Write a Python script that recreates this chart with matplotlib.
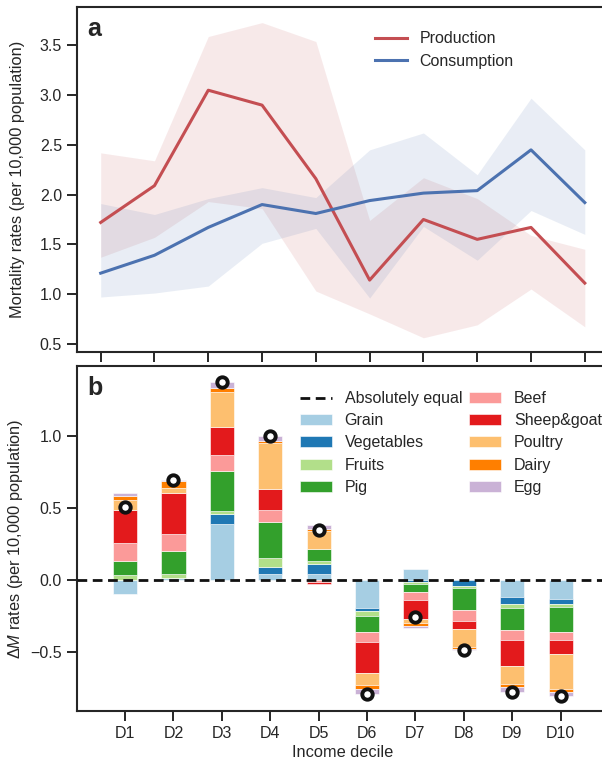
import numpy as np
import matplotlib
matplotlib.use("Agg")
import matplotlib.pyplot as plt
from matplotlib.lines import Line2D
from matplotlib.patches import Patch

# ---------------- data ----------------
deciles = ["D1", "D2", "D3", "D4", "D5", "D6", "D7", "D8", "D9", "D10"]

production = [1.72, 2.09, 3.05, 2.90, 2.16, 1.14, 1.75, 1.55, 1.67, 1.11]
production_hi = [2.42, 2.34, 3.59, 3.73, 3.54, 1.74, 2.17, 1.96, 1.59, 1.45]
production_lo = [1.37, 1.57, 1.93, 1.86, 1.03, 0.80, 0.56, 0.69, 1.05, 0.67]

consumption = [1.21, 1.39, 1.67, 1.90, 1.81, 1.94, 2.015, 2.04, 2.45, 1.92]
consumption_hi = [1.91, 1.80, 1.96, 2.07, 1.97, 2.45, 2.62, 2.20, 2.97, 2.45]
consumption_lo = [0.97, 1.01, 1.08, 1.51, 1.66, 0.96, 1.68, 1.34, 1.84, 1.60]

categories = ["Grain", "Vegetables", "Fruits", "Pig", "Beef",
              "Sheep&goat", "Poultry", "Dairy", "Egg"]
grain = [-0.10, 0.015, 0.387, 0.04, 0.04, -0.199, 0.072, 0.0, -0.12, -0.136]
vegetables = [0.0, 0.0, 0.069, 0.05, 0.067, -0.02, -0.014, -0.044, -0.046, -0.03]
fruits = [0.035, 0.025, 0.021, 0.059, 0.02, -0.033, -0.018, -0.013, -0.032, -0.023]
pig = [0.095, 0.16, 0.28, 0.25, 0.088, -0.111, -0.053, -0.157, -0.152, -0.175]
beef = [0.125, 0.117, 0.111, 0.087, -0.018, -0.07, -0.056, -0.07, -0.07, -0.058]
sheep_goat = [0.229, 0.287, 0.195, 0.144, -0.014, -0.213, -0.132, -0.06, -0.178, -0.095]
poultry = [0.067, 0.033, 0.24, 0.321, 0.125, -0.085, -0.03, -0.122, -0.127, -0.245]
dairy = [0.03, 0.051, 0.028, 0.012, 0.012, -0.03, -0.018, -0.012, -0.023, -0.017]
egg = [0.024, 0.006, 0.042, 0.037, 0.026, -0.033, -0.012, -0.011, -0.031, -0.028]
series_b = [grain, vegetables, fruits, pig, beef, sheep_goat, poultry, dairy, egg]

# ---------------- style ----------------
TXT = "#262626"
plt.rcParams.update({
    "font.family": ["Liberation Sans", "DejaVu Sans"],
    "font.size": 11.5,
    "mathtext.fontset": "custom",
    "mathtext.rm": "Liberation Sans",
    "mathtext.it": "Liberation Sans:italic",
    "text.color": TXT,
    "axes.labelcolor": TXT,
    "axes.edgecolor": TXT,
    "axes.linewidth": 1.5,
    "xtick.color": TXT,
    "ytick.color": TXT,
    "xtick.major.size": 7,
    "ytick.major.size": 7,
    "xtick.major.width": 1.4,
    "ytick.major.width": 1.4,
    "xtick.labelsize": 11.5,
    "ytick.labelsize": 11.5,
    "axes.labelsize": 11.8,
    "legend.fontsize": 11.5,
})

RED = "#c44e52"
BLUE = "#4c72b0"
paired = plt.get_cmap("Paired").colors
cat_colors = [paired[i] for i in range(9)]

fig = plt.figure(figsize=(6.02, 7.63), dpi=100)
W = 532.3 / 602
axA = fig.add_axes([76.7 / 602, (763 - 351.7) / 763, W, 345.0 / 763])
axB = fig.add_axes([76.7 / 602, (763 - 711.0) / 763, W, 345.3 / 763])

# ---------------- panel a ----------------
x = np.arange(len(deciles))
axA.fill_between(x, production_lo, production_hi, color=RED, alpha=0.12, lw=0)
axA.fill_between(x, consumption_lo, consumption_hi, color=BLUE, alpha=0.12, lw=0)
axA.plot(x, production, color=RED, lw=2.2, label="Production")
axA.plot(x, consumption, color=BLUE, lw=2.2, label="Consumption")
axA.set_xlim(-0.446, 9.45)
axA.set_ylim(0.42, 3.89)
axA.set_xticks(x)
axA.set_xticklabels([])
axA.set_yticks([0.5, 1.0, 1.5, 2.0, 2.5, 3.0, 3.5])
axA.set_ylabel("Mortality rates (per 10,000 population)")
axA.yaxis.set_label_coords(-0.097, 0.5)
axA.text(0.02, 0.97, "a", transform=axA.transAxes, fontsize=18,
         fontweight="bold", va="top", ha="left")
axA.legend(loc="upper left", bbox_to_anchor=(0.533, 0.97), frameon=False,
           handlelength=2.0, handletextpad=0.8, labelspacing=0.45)

# ---------------- panel b ----------------
xb = np.arange(len(deciles))
pos_base = np.zeros(len(deciles))
neg_base = np.zeros(len(deciles))
for name, vals, col in zip(categories, series_b, cat_colors):
    v = np.array(vals, dtype=float)
    bottoms = np.where(v >= 0, pos_base, neg_base)
    axB.bar(xb, v, width=0.5, bottom=bottoms, color=col,
            edgecolor="white", linewidth=0.4, zorder=2)
    pos_base = pos_base + np.where(v >= 0, v, 0)
    neg_base = neg_base + np.where(v < 0, v, 0)

net = np.sum(np.array(series_b, dtype=float), axis=0)
axB.axhline(0, color="#111111", ls="--", lw=2.0, dashes=(3.5, 2.0), zorder=3)
axB.plot(xb, net, ls="none", marker="o", ms=7.5, mfc="white", mec="#111111",
         mew=2.8, zorder=4)

axB.set_xlim(-1, 10)
axB.set_ylim(-0.912, 1.486)
axB.set_xticks(xb)
axB.set_xticklabels(deciles)
axB.set_yticks([-0.5, 0.0, 0.5, 1.0])
axB.set_xlabel("Income decile", labelpad=3)
axB.set_ylabel("$\\mathit{ΔM}$ rates (per 10,000 population)")
axB.yaxis.set_label_coords(-0.097, 0.5)
axB.text(0.02, 0.97, "b", transform=axB.transAxes, fontsize=18,
         fontweight="bold", va="top", ha="left")

handles = [Line2D([0], [0], color="#111111", ls="--", lw=2.0, dashes=(3.5, 2.0))]
labels = ["Absolutely equal"]
for name, col in zip(categories, cat_colors):
    handles.append(Patch(facecolor=col, edgecolor="white", linewidth=0.4))
    labels.append(name)
axB.legend(handles, labels, ncol=2, loc="upper left", bbox_to_anchor=(0.3925, 0.968),
           frameon=False, handlelength=2.0, handletextpad=0.8,
           labelspacing=0.45, columnspacing=0.45)

fig.savefig("out.png", dpi=100)
